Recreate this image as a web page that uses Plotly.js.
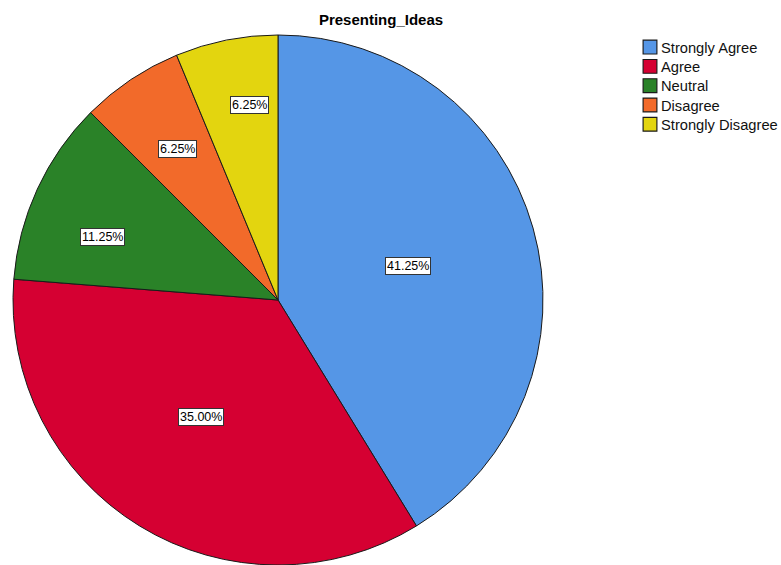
<!DOCTYPE html>
<html>
<head>
<meta charset="utf-8">
<script src="https://cdn.plot.ly/plotly-3.0.1.min.js"></script>
<style>html,body{margin:0;padding:0;background:#fff;}#chart{width:781px;height:565px;}</style>
</head>
<body>
<div id="chart"></div>
<script>
const categories = ["Strongly Agree", "Agree", "Neutral", "Disagree", "Strongly Disagree"];
const percents = [41.25, 35.00, 11.25, 6.25, 6.25];
const colors = ["#5596E6", "#D50032", "#2A8228", "#F26A2A", "#E3D50F"];
const chartTitle = "Presenting_Ideas";

// label placement (layout only): fraction of radius and angular nudge in degrees
const labelRadius = [0.507, 0.529, 0.705, 0.684, 0.743];
const labelAngleShift = [1.25, 1.8, -5.0, 0.25, 3.0];

const W = 781, H = 565;
const cx = 278, cy = 300, R = 265;
const dom = {x: [(cx - R) / W, (cx + R) / W], y: [1 - (cy + R) / H, 1 - (cy - R) / H]};

const total = percents.reduce((a, b) => a + b, 0);
let start = 0;
const annotations = [];
percents.forEach((p, i) => {
  const span = p / total * 2 * Math.PI;
  const mid = start + span / 2 + labelAngleShift[i] * Math.PI / 180;
  const d = labelRadius[i] * R;
  const px = cx + d * Math.sin(mid);
  const py = cy - d * Math.cos(mid);
  annotations.push({
    x: px / W, y: 1 - py / H, xref: 'paper', yref: 'paper',
    xanchor: 'center', yanchor: 'middle',
    text: p.toFixed(2) + '%', showarrow: false,
    font: {family: 'Liberation Sans, Arial, sans-serif', size: 12.5, color: '#000'},
    bgcolor: '#ffffff', bordercolor: '#333333', borderwidth: 1, borderpad: 1
  });
  start += span;
});

const trace = {
  type: 'pie',
  labels: categories,
  values: percents,
  sort: false,
  direction: 'clockwise',
  rotation: 0,
  marker: {colors: colors, line: {color: '#1a1a1a', width: 1}},
  textinfo: 'none',
  hoverinfo: 'label+percent',
  domain: dom
};

const layout = {
  width: W, height: H,
  margin: {l: 0, r: 0, t: 0, b: 0, autoexpand: false},
  paper_bgcolor: '#ffffff',
  title: {text: '<b>' + chartTitle + '</b>', x: 381 / W, xanchor: 'center', y: 1 - 20 / H, yanchor: 'middle',
          font: {family: 'Liberation Sans, Arial, sans-serif', size: 15, color: '#000'}},
  showlegend: true,
  legend: {x: 630 / W, xanchor: 'left', y: 1 - 31 / H, yanchor: 'top', bgcolor: 'rgba(0,0,0,0)',
           font: {family: 'Liberation Sans, Arial, sans-serif', size: 14.7, color: '#111'},
           tracegroupgap: 0, itemwidth: 30},
  annotations: annotations
};

Plotly.newPlot('chart', [trace], layout, {displayModeBar: false, staticPlot: true}).then(() => {
  document.querySelectorAll('#chart .legendtext').forEach(t => t.setAttribute('x', 31));
  document.querySelectorAll('#chart .legendpoints path').forEach(p => {
    p.setAttribute('transform', (p.getAttribute('transform') || '') + ' scale(1.15)');
  });
  const items = document.querySelectorAll('#chart .legend g.traces');
  let y0 = null;
  items.forEach((g, i) => {
    const m = /translate\(\s*([-\d.]+)[ ,]+([-\d.]+)\s*\)/.exec(g.getAttribute('transform') || '');
    if (!m) return;
    const x = parseFloat(m[1]);
    if (y0 === null) y0 = parseFloat(m[2]);
    g.setAttribute('transform', 'translate(' + x + ',' + (y0 + i * 19.3) + ')');
  });
});
</script>
</body>
</html>
